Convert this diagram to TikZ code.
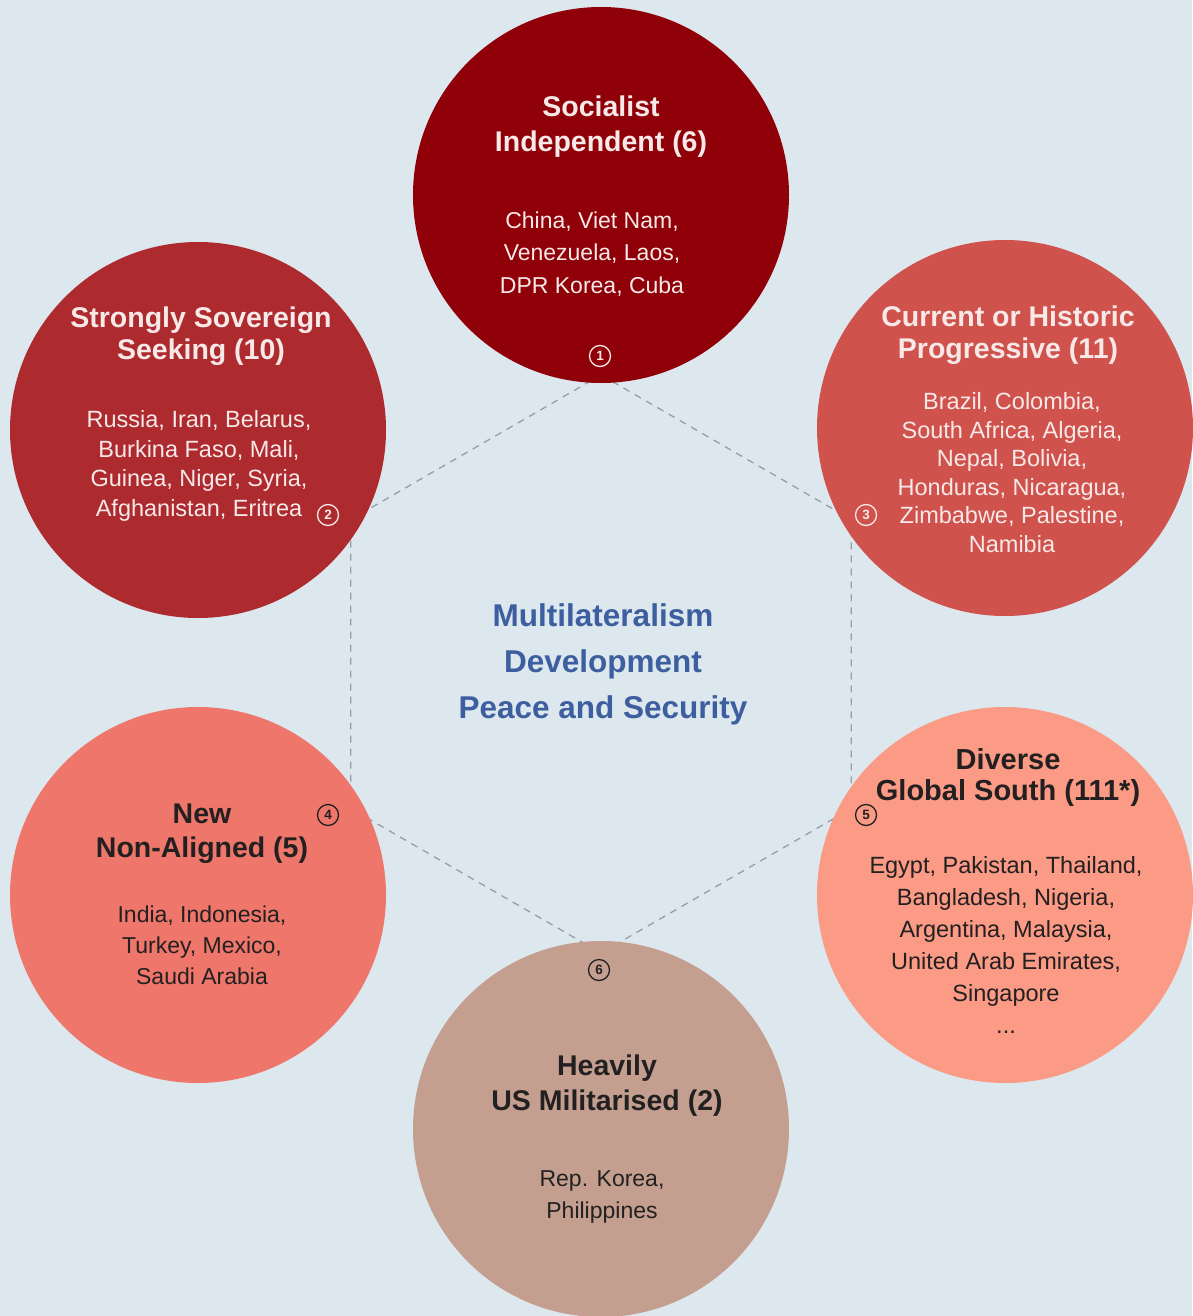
\documentclass[tikz,border=0pt]{standalone}
\usepackage{fontspec}
\setmainfont{Liberation Sans}
\definecolor{bg}{HTML}{DCE7EE}
\definecolor{cA}{HTML}{8F0008}
\definecolor{cB}{HTML}{AD2A2E}
\definecolor{cC}{HTML}{D0524C}
\definecolor{cD}{HTML}{EE766A}
\definecolor{cE}{HTML}{FB9A85}
\definecolor{cF}{HTML}{C49F90}
\definecolor{lighttxt}{HTML}{F8E9E9}
\definecolor{darktxt}{HTML}{222020}
\definecolor{bluetxt}{HTML}{3D5E9F}
\definecolor{hexgray}{HTML}{9A9EA2}
\newcommand{\fsz}[2]{\fontsize{#1}{#2}\selectfont}
\tikzset{
  bubble/.style={circle, inner sep=0pt, minimum size=376pt},
  ttl/.style={align=center, anchor=base, inner sep=0pt},
  bdy/.style={align=center, anchor=base, inner sep=0pt},
  badge/.style={circle, draw, line width=1.3pt, minimum size=21pt, inner sep=0pt, font=\fsz{13.5}{13.5}\bfseries},
  hexline/.style={draw=hexgray, line width=1.3pt, dash pattern=on 7pt off 6pt}
}
\begin{document}
\begin{tikzpicture}[x=1pt,y=-1pt]
\fill[bg] (0,0) rectangle (1192,1316);
\useasboundingbox (0,0) rectangle (1192,1316);
% hexagon
\coordinate (h1) at (601,375);
\coordinate (h2) at (851.3,519.5);
\coordinate (h3) at (851.3,808.5);
\coordinate (h4) at (601,953);
\coordinate (h5) at (350.7,808.5);
\coordinate (h6) at (350.7,519.5);
\draw[hexline] (h1) -- (h2) -- (h3) -- (h4) -- (h5) -- (h6) -- cycle;
% circles
\node[bubble, fill=cA] (k1) at (601,195) {};
\node[bubble, fill=cB] (k2) at (198,430) {};
\node[bubble, fill=cC] (k3) at (1005,428) {};
\node[bubble, fill=cD] (k4) at (198,895) {};
\node[bubble, fill=cE] (k5) at (1005,895) {};
\node[bubble, fill=cF] (k6) at (601,1129) {};
% centre
\node[ttl, text=bluetxt, font=\fsz{31.5}{46}\bfseries] (centre) at (603,718)
  {Multilateralism\\Development\\Peace and Security};
% 1
\node[ttl, text=lighttxt, font=\fsz{28.5}{35}\bfseries] (t1) at (601,152) {Socialist\\Independent (6)};
\node[bdy, text=lighttxt, font=\fsz{23}{32.5}] (b1) at (592,293) {China, Viet Nam,\\Venezuela, Laos,\\DPR Korea, Cuba};
\node[badge, draw=lighttxt, text=lighttxt] (n1) at (600,356) {1};
% 2
\node[ttl, text=lighttxt, font=\fsz{28.5}{32}\bfseries] (t2) at (201,359) {Strongly Sovereign\\Seeking (10)};
\node[bdy, text=lighttxt, font=\fsz{23.5}{29.5}] (b2) at (199,516) {Russia, Iran, Belarus,\\Burkina Faso, Mali,\\Guinea, Niger, Syria,\\Afghanistan, Eritrea};
\node[badge, draw=lighttxt, text=lighttxt] (n2) at (328,515) {2};
% 3
\node[ttl, text=lighttxt, font=\fsz{28.5}{32}\bfseries] (t3) at (1008,358) {Current or Historic\\Progressive (11)};
\node[bdy, text=lighttxt, font=\fsz{23.5}{28.5}] (b3) at (1012,552) {Brazil, Colombia,\\South Africa, Algeria,\\Nepal, Bolivia,\\Honduras, Nicaragua,\\Zimbabwe, Palestine,\\Namibia};
\node[badge, draw=lighttxt, text=lighttxt] (n3) at (866,515) {3};
% 4
\node[ttl, text=darktxt, font=\fsz{28.5}{34}\bfseries] (t4) at (202,857) {New\\Non-Aligned (5)};
\node[bdy, text=darktxt, font=\fsz{23}{31}] (b4) at (202,984) {India, Indonesia,\\Turkey, Mexico,\\Saudi Arabia};
\node[badge, draw=darktxt, text=darktxt] (n4) at (328,815) {4};
% 5
\node[ttl, text=darktxt, font=\fsz{29}{31}\bfseries] (t5) at (1008,800) {Diverse\\Global South (111*)};
\node[bdy, text=darktxt, font=\fsz{23.5}{32}] (b5) at (1006,1033) {Egypt, Pakistan, Thailand,\\Bangladesh, Nigeria,\\Argentina, Malaysia,\\United Arab Emirates,\\Singapore\\...};
\node[badge, draw=darktxt, text=darktxt] (n5) at (866,815) {5};
% 6
\node[ttl, text=darktxt, font=\fsz{28.5}{35}\bfseries] (t6) at (607,1110) {Heavily\\US Militarised (2)};
\node[bdy, text=darktxt, font=\fsz{23}{31.5}] (b6) at (602,1218) {Rep. Korea,\\Philippines};
\node[badge, draw=darktxt, text=darktxt] (n6) at (599,970) {6};
\end{tikzpicture}
\end{document}
